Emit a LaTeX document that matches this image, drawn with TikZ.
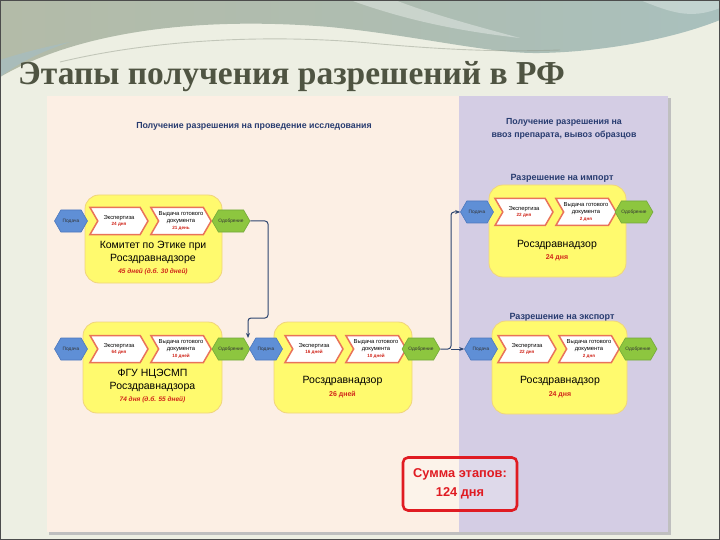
\documentclass[tikz,border=0pt]{standalone}
\usepackage{fontspec}
\setmainfont{Liberation Sans}
\newfontfamily\titlefont{Liberation Serif}
\usetikzlibrary{shapes.symbols,arrows.meta}
\definecolor{slidebg}{HTML}{EDEFE3}
\definecolor{waveA}{HTML}{B3BBA8}
\definecolor{waveB}{HTML}{A9C0BD}
\definecolor{waveC}{HTML}{A3BEC6}
\definecolor{peach}{HTML}{FCEFE4}
\definecolor{lav}{HTML}{D4CDE4}
\definecolor{yfill}{HTML}{FFFA6E}
\definecolor{ydraw}{HTML}{F0D47C}
\definecolor{chevc}{HTML}{E9735A}
\definecolor{hexB}{HTML}{5F8FD6}
\definecolor{hexBd}{HTML}{4C78BE}
\definecolor{hexG}{HTML}{8DC63F}
\definecolor{hexGd}{HTML}{73A83A}
\definecolor{dred}{HTML}{D0251A}
\definecolor{hdr}{HTML}{283C70}
\definecolor{connc}{HTML}{2E4670}
\definecolor{sumred}{HTML}{E01B22}
\definecolor{titlec}{HTML}{4F5442}
\tikzset{
  hexbase/.style={signal, signal to=east and west, signal pointer angle=120,
    minimum width=33pt, minimum height=22pt, inner sep=0pt, line width=0.6pt,
    font=\fontsize{4.8}{5}\selectfont, text=black!80},
  hexblue/.style={hexbase, fill=hexB, draw=hexBd},
  hexgreen/.style={hexbase, fill=hexG, draw=hexGd},
  chev/.style={signal, signal from=west, signal to=east, signal pointer angle=120,
    minimum width=58pt, minimum height=27pt, inner sep=0pt, fill=white,
    draw=chevc, line width=1.5pt, align=center,
    font=\fontsize{5.8}{6.6}\selectfont},
  ybox/.style={rectangle, rounded corners=14pt, fill=yfill, draw=ydraw,
    line width=0.8pt, inner sep=0pt},
  bigtxt/.style={align=center, font=\fontsize{10.5}{13}\selectfont},
  days/.style={text=dred, font=\bfseries\fontsize{7}{8}\selectfont},
  daysi/.style={text=dred, font=\bfseries\itshape\fontsize{6.5}{8}\selectfont},
  hdrtxt/.style={text=hdr, align=center, font=\bfseries\fontsize{8.8}{13}\selectfont},
  subhdr/.style={text=hdr, font=\bfseries\fontsize{9}{10}\selectfont},
  conn/.style={draw=connc, line width=1pt, rounded corners=3pt},
  arr/.style={conn, -{Stealth[length=5pt,width=4pt]}},
}
\newcommand{\cd}[1]{{\color{dred}\bfseries\fontsize{4.6}{5.6}\selectfont #1}}
\begin{document}
\begin{tikzpicture}[x=1pt,y=-1pt]
\useasboundingbox (0,0) rectangle (720,540);
% slide background
\fill[slidebg] (0,0) rectangle (720,540);
\shade[left color=waveA, right color=waveB, middle color=waveA!60!waveB]
  (0,0) -- (720,0) -- (720,20) .. controls (670,40) and (600,52) .. (540,53)
  .. controls (490,54) and (420,36) .. (330,27)
  .. controls (220,18) and (90,25) .. (0,77) -- cycle;
\fill[waveC, opacity=0.6] (0,77) .. controls (20,62) and (40,52) .. (70,42) .. controls (40,48) and (15,55) .. (0,60) -- cycle;
\fill[white, opacity=0.35] (350,0) .. controls (400,18) and (450,30) .. (520,38) .. controls (460,22) and (420,10) .. (395,0) -- cycle;
\fill[white, opacity=0.3] (640,0) .. controls (670,12) and (690,20) .. (720,8) -- (720,0) -- cycle;
\draw[waveA!80!black, opacity=0.45, line width=0.9pt] (60,62) .. controls (160,38) and (280,34) .. (380,44) .. controls (450,50) and (500,52) .. (560,50);
\draw[black!70, line width=1.2pt] (0.6,0.6) rectangle (719.4,539.4);
% title
\node[anchor=base west, inner sep=0pt, text=titlec, font=\titlefont\bfseries\fontsize{33.5}{36}\selectfont] (title) at (18,85) {Этапы получения разрешений в РФ};
% panels
\fill[black!25] (49,98) rectangle (671,535);
\fill[peach] (47,96) rectangle (459,532);
\fill[lav] (459,96) rectangle (668,532);
% headers
\node[hdrtxt] (h1) at (254,126) {Получение разрешения на проведение исследования};
\node[hdrtxt] (h2) at (564,129) {Получение разрешения на\\ввоз препарата, вывоз образцов};
\node[subhdr] (h3) at (562,178) {Разрешение на импорт};
\node[subhdr] (h4) at (562,317) {Разрешение на экспорт};
% group 1: committee
\node[ybox, minimum width=137pt, minimum height=88pt] (y1) at (153.5,239) {};
\node[hexblue] (b1) at (71,221) {Подача};
\node[chev] (c11) at (119,221) {Экспертиза\\\cd{24 дня}};
\node[chev] (c12) at (181,221) {Выдача готового\\документа\\\cd{21 день}};
\node[hexgreen] (g1) at (231,221) {Одобрение};
\node[bigtxt] (t1) at (153,252.5) {Комитет по Этике при\\Росздравнадзоре};
\node[daysi] (d1) at (153,272) {45 дней (д.б. 30 дней)};
% group 2: FGU
\node[ybox, minimum width=139pt, minimum height=91pt] (y2) at (152.5,367.5) {};
\node[hexblue] (b2) at (71,349) {Подача};
\node[chev] (c21) at (119,349) {Экспертиза\\\cd{64 дня}};
\node[chev] (c22) at (181,349) {Выдача готового\\документа\\\cd{10 дней}};
\node[hexgreen] (g2) at (231,349) {Одобрение};
\node[bigtxt] (t2) at (152.5,380.5) {ФГУ НЦЭСМП\\Росздравнадзора};
\node[daysi] (d2) at (152.5,400) {74 дня (д.б. 55 дней)};
% group 3: Roszdravnadzor
\node[ybox, minimum width=138pt, minimum height=91pt] (y3) at (343,367.5) {};
\node[hexblue] (b3) at (266,349) {Подача};
\node[chev] (c31) at (314,349) {Экспертиза\\\cd{16 дней}};
\node[chev] (c32) at (376,349) {Выдача готового\\документа\\\cd{10 дней}};
\node[hexgreen] (g3) at (421,349) {Одобрение};
\node[bigtxt] (t3) at (342.5,381) {Росздравнадзор};
\node[days] (d3) at (342.5,395) {26 дней};
% group 4: import
\node[ybox, minimum width=137pt, minimum height=92pt] (y4) at (557.5,231) {};
\node[hexblue] (b4) at (477,212) {Подача};
\node[chev] (c41) at (524,212) {Экспертиза\\\cd{22 дня}};
\node[chev] (c42) at (586,212) {Выдача готового\\документа\\\cd{2 дня}};
\node[hexgreen] (g4) at (634,212) {Одобрение};
\node[bigtxt] (t4) at (557,245) {Росздравнадзор};
\node[days] (d4) at (557,258) {24 дня};
% group 5: export
\node[ybox, minimum width=135pt, minimum height=93pt] (y5) at (559.5,367.5) {};
\node[hexblue] (b5) at (481,349) {Подача};
\node[chev] (c51) at (527,349) {Экспертиза\\\cd{22 дня}};
\node[chev] (c52) at (589,349) {Выдача готового\\документа\\\cd{2 дня}};
\node[hexgreen] (g5) at (638,349) {Одобрение};
\node[bigtxt] (t5) at (560,381) {Росздравнадзор};
\node[days] (d5) at (560,395) {24 дня};
% connectors
\coordinate (k1) at (268,318);
\coordinate (k2) at (248,338);
\draw[arr] (g1.east) -| (k1) -| (k2);
\coordinate (k3) at (451,349);
\draw[arr] (g3.east) -- (k3) |- (b4.west);
\draw[arr] (k3) -- (b5.west);
% sum box
\node[draw=sumred, line width=2.6pt, rounded corners=5pt, fill=white, fill opacity=0.25, text opacity=1,
  minimum width=114pt, minimum height=53pt, align=center, text=sumred,
  font=\bfseries\fontsize{12.8}{19}\selectfont] (sum) at (460,484) {Сумма этапов:\\124 дня};
\end{tikzpicture}
\end{document}
